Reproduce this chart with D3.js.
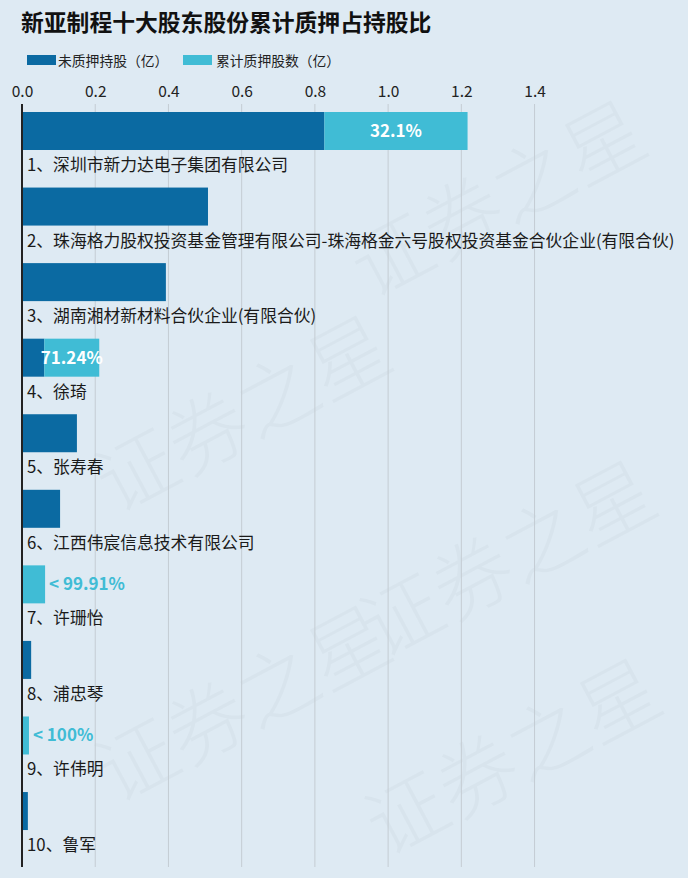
<!DOCTYPE html>
<html><head><meta charset="utf-8">
<script src="https://cdn.jsdelivr.net/npm/d3@7/dist/d3.min.js"></script>
<style>
html,body{margin:0;padding:0;background:#deeaf3;}
svg{display:block;font-family:"Noto Sans CJK SC","Noto Sans",sans-serif;}
</style></head>
<body>
<svg id="c" width="688" height="878"></svg>
<script>
const title = "新亚制程十大股东股份累计质押占持股比";
const seriesNames = ["未质押持股（亿）", "累计质押股数（亿）"];
const holders = ["1、深圳市新力达电子集团有限公司",
  "2、珠海格力股权投资基金管理有限公司-珠海格金六号股权投资基金合伙企业(有限合伙)",
  "3、湖南湘材新材料合伙企业(有限合伙)",
  "4、徐琦", "5、张寿春", "6、江西伟宸信息技术有限公司",
  "7、许珊怡", "8、浦忠琴", "9、许伟明", "10、鲁军"];
const unpledged = [0.826, 0.508, 0.393, 0.061, 0.150, 0.104, 0.00006, 0.025, 0, 0.016];
const pledged   = [0.391, 0, 0, 0.150, 0, 0, 0.063, 0, 0.019, 0];
const pctLabels = ["32.1%", "", "", "71.24%", "", "", "< 99.91%", "", "< 100%", ""];
const ticks = [0, 0.2, 0.4, 0.6, 0.8, 1.0, 1.2, 1.4];

const svg = d3.select("#c");
const colDark = "#0b6aa2", colLight = "#40bcd5";

// watermark (very faint, in the empty areas)
const wm = svg.append("g").attr("fill", "#000").attr("fill-opacity", 0.025)
  .style("font-size", "80px").style("font-weight", 300);
const wmPos = [[115, 515], [370, 300], [380, 660], [115, 805], [385, 858]];
wmPos.forEach(p => {
  wm.append("text").attr("transform", `translate(${p[0]},${p[1]}) rotate(-28)`)
    .text("证券之星");
});

const x = d3.scaleLinear().domain([0, 1.8]).range([22, 681]);
const y = d3.scaleBand().domain(holders).range([108, 108 + 75.56 * 10]).paddingInner(0);
const barH = 38;

// title
svg.append("text").attr("x", 21).attr("y", 31).attr("font-size", 22.8)
  .attr("font-weight", "bold").attr("fill", "#111").text(title);

// legend
const leg = [[27, 58], [183, 216]];
seriesNames.forEach((n, i) => {
  svg.append("rect").attr("x", leg[i][0]).attr("y", 55).attr("width", 29).attr("height", 10)
    .attr("fill", i === 0 ? colDark : colLight);
  svg.append("text").attr("x", leg[i][1]).attr("y", 65.5).attr("font-size", 13.8)
    .attr("fill", "#222").text(n);
});

// grid
svg.append("g").selectAll("line").data(ticks.filter(t => t > 0)).join("line")
  .attr("x1", d => x(d)).attr("x2", d => x(d)).attr("y1", 104).attr("y2", 867)
  .attr("stroke", "#c4ccd3").attr("stroke-width", 1);

// top axis
const ax = svg.append("g").attr("transform", "translate(0,104)")
  .call(d3.axisTop(x).tickValues(ticks).tickFormat(d3.format(".1f")).tickSize(0).tickPadding(7));
ax.select(".domain").remove();
ax.selectAll("text").attr("font-size", 15.5).attr("fill", "#222")
  .style("font-family", '"Noto Sans CJK SC","Noto Sans",sans-serif');

// bars
const rows = svg.append("g").selectAll("g").data(holders).join("g")
  .attr("transform", d => `translate(0,${y(d) + 4})`);
rows.append("rect").attr("x", x(0)).attr("y", 0)
  .attr("width", (d, i) => x(unpledged[i]) - x(0)).attr("height", barH).attr("fill", colDark);
rows.append("rect").attr("x", (d, i) => x(unpledged[i])).attr("y", 0)
  .attr("width", (d, i) => x(unpledged[i] + pledged[i]) - x(unpledged[i])).attr("height", barH)
  .attr("fill", colLight);
rows.append("text").attr("x", 27).attr("y", barH + 21).attr("font-size", 16.8).attr("fill", "#1a1a1a")
  .text(d => d);
rows.append("text")
  .attr("x", (d, i) => pctLabels[i].startsWith("<") ? x(unpledged[i] + pledged[i]) + 4
        : (x(unpledged[i]) + x(unpledged[i] + pledged[i])) / 2)
  .attr("y", barH / 2 + 6)
  .attr("text-anchor", (d, i) => pctLabels[i].startsWith("<") ? "start" : "middle")
  .attr("font-size", 17).attr("font-weight", "bold")
  .attr("fill", (d, i) => pctLabels[i].startsWith("<") ? colLight : "#fff")
  .text((d, i) => pctLabels[i]);

// y axis line
svg.append("line").attr("x1", 22).attr("x2", 22).attr("y1", 104).attr("y2", 867)
  .attr("stroke", "#222").attr("stroke-width", 2);
</script>
</body></html>
